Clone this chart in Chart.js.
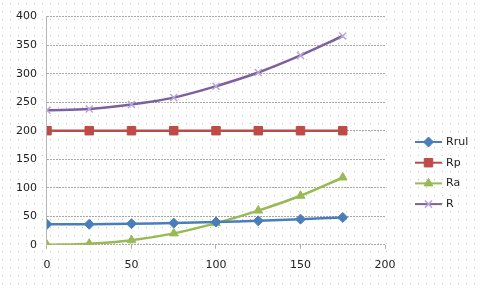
<!DOCTYPE html>
<html>
<head>
<meta charset="utf-8">
<script src="https://cdn.jsdelivr.net/npm/chart.js@4/dist/chart.umd.min.js"></script>
<style>
  html, body { margin: 0; padding: 0; background: #fff; }
  #wrap { position: relative; width: 480px; height: 288px; }
</style>
</head>
<body>
<div id="wrap"><canvas id="chart" width="480" height="288"></canvas></div>
<script>
// values
const xValues = [0, 25, 50, 75, 100, 125, 150, 175];
const rrul = [36, 36, 37, 38, 40, 42, 45, 48];
const rp = [200, 200, 200, 200, 200, 200, 200, 200];
const ra = [0, 2, 8, 20, 38, 60, 86, 118];
const r = [236, 238, 246, 258, 278, 302, 332, 366];
const seriesNames = ['Rrul', 'Rp', 'Ra', 'R'];

const pts = arr => arr.map((v, i) => ({ x: xValues[i], y: v }));

// dotted paper background, like the original export
const dotBackground = {
    id: 'dotBackground',
    beforeDraw(chart) {
        const ctx = chart.ctx;
        ctx.save();
        ctx.fillStyle = '#c8c8c8';
        for (let y = 3; y < chart.height; y += 8) {
            for (let x = 2; x < chart.width; x += 8) {
                ctx.fillRect(x, y, 1, 1);
            }
        }
        ctx.restore();
    }
};

// legend drawn as line + marker, Excel style
const lineLegend = {
    id: 'lineLegend',
    afterDraw(chart) {
        const ctx = chart.ctx;
        chart.data.datasets.forEach((ds, i) => {
            const y = 142 + i * 20.7;
            ctx.save();
            ctx.strokeStyle = ds.borderColor;
            ctx.lineWidth = 2;
            ctx.beginPath();
            ctx.moveTo(415, y);
            ctx.lineTo(442, y);
            ctx.stroke();
            ctx.fillStyle = ds.pointBackgroundColor;
            ctx.strokeStyle = ds.pointBorderColor;
            ctx.lineWidth = ds.pointBorderWidth;
            Chart.helpers.drawPoint(ctx, {
                pointStyle: ds.pointStyle,
                radius: ds.pointRadius,
                rotation: ds.pointRotation || 0,
                borderWidth: ds.pointBorderWidth
            }, 428.5, y);
            ctx.fillStyle = '#222';
            ctx.font = '11px "DejaVu Sans"';
            ctx.textBaseline = 'middle';
            ctx.fillText(ds.label, 446, y);
            ctx.restore();
        });
    }
};

function series(label, data, color, style, radius, extra) {
    return Object.assign({
        label: label,
        data: pts(data),
        borderColor: color,
        backgroundColor: color,
        borderWidth: 2.5,
        pointStyle: style,
        pointRadius: radius,
        pointBackgroundColor: color,
        pointBorderColor: color,
        pointBorderWidth: 1,
        pointHoverRadius: radius,
        showLine: true,
        tension: 0.35,
        fill: false
    }, extra || {});
}

new Chart(document.getElementById('chart'), {
    type: 'scatter',
    data: {
        datasets: [
            series(seriesNames[0], rrul, '#4a7ebb', 'rectRot', 5),
            series(seriesNames[1], rp, '#be4b48', 'rect', 6),
            series(seriesNames[2], ra, '#98b954', 'triangle', 5),
            series(seriesNames[3], r, '#7d60a0', 'cross', 5, { pointRotation: 45, pointBorderColor: '#b9a6d6', pointBorderWidth: 1.5 })
        ]
    },
    options: {
        responsive: false,
        animation: false,
        events: [],
        layout: { padding: { left: 6, right: 95, top: 9, bottom: 6 } },
        plugins: {
            legend: { display: false },
            tooltip: { enabled: false }
        },
        scales: {
            x: {
                type: 'linear',
                min: 0,
                max: 200,
                ticks: { stepSize: 50, color: '#222', font: { family: 'DejaVu Sans', size: 11 }, padding: 10 },
                grid: { drawOnChartArea: false, drawTicks: true, tickLength: 4, color: '#b0b0b0' },
                border: { display: false }
            },
            y: {
                min: 0,
                max: 400,
                ticks: { stepSize: 50, color: '#222', font: { family: 'DejaVu Sans', size: 11 }, padding: 10 },
                grid: { color: '#a8a8a8', drawTicks: false },
                border: { color: '#b8b8b8', dash: [2, 1] }
            }
        }
    },
    plugins: [dotBackground, lineLegend]
});
</script>
</body>
</html>
